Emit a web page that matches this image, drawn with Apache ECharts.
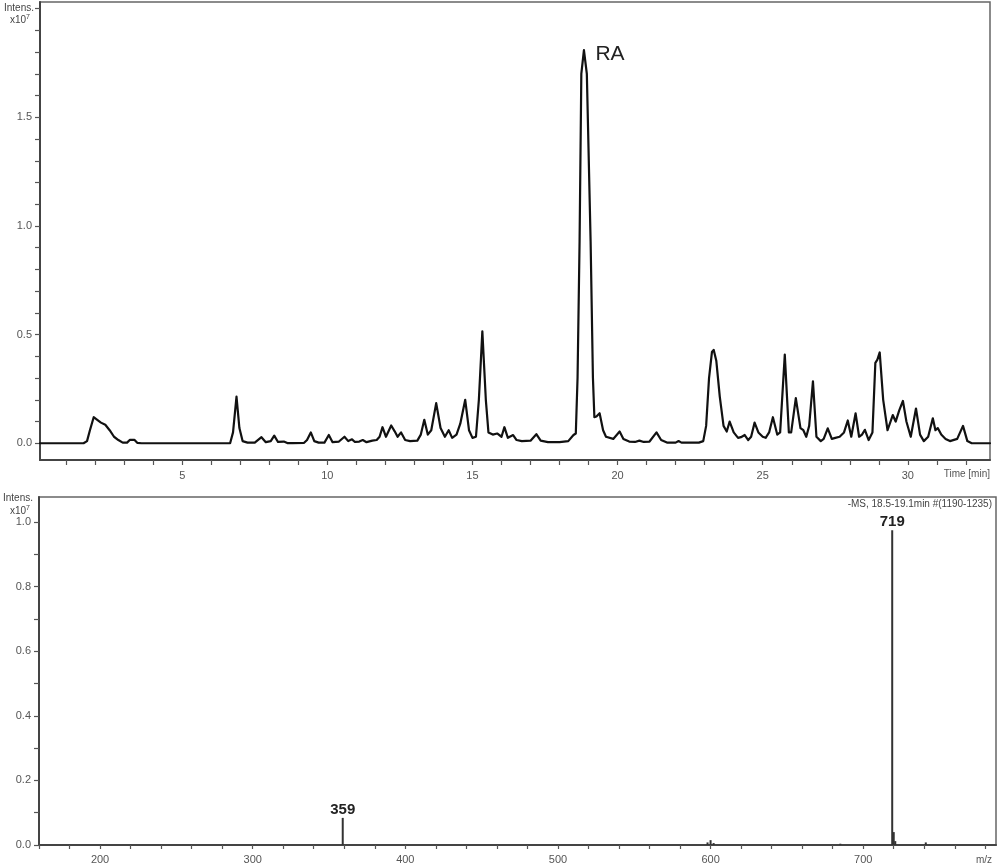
<!DOCTYPE html>
<html>
<head>
<meta charset="utf-8">
<script src="https://cdn.jsdelivr.net/npm/echarts@6/dist/echarts.min.js"></script>
<style>
html,body{margin:0;padding:0;background:#fff;}
#chart{width:1000px;height:865px;}
</style>
</head>
<body>
<div id="chart"></div>
<script>
// ---- Top: chromatogram (time in min, intensity x10^7) ----
var chromTime = [0.1,1.6,1.72,1.82,1.95,2.05,2.2,2.35,2.5,2.65,2.8,2.95,3.1,3.2,3.35,3.45,3.6,
  6.65,6.75,6.87,6.97,7.08,7.25,7.5,7.73,7.88,8.05,8.17,8.3,8.5,8.62,8.8,9.2,9.3,9.43,9.55,9.7,9.9,
  10.05,10.18,10.4,10.59,10.72,10.85,10.95,11.1,11.22,11.35,11.55,11.7,11.8,11.9,12.02,12.2,12.32,12.42,
  12.54,12.68,12.85,13.1,13.22,13.34,13.46,13.58,13.75,13.9,14.05,14.18,14.3,14.45,14.58,14.75,14.88,
  15.0,15.12,15.22,15.34,15.46,15.55,15.7,15.85,16.0,16.1,16.22,16.4,16.52,16.7,17.0,17.2,17.35,17.6,
  18.0,18.3,18.48,18.56,18.62,18.69,18.75,18.84,18.94,19.07,19.15,19.2,19.27,19.38,19.5,19.6,19.85,
  20.07,20.2,20.4,20.6,20.75,20.9,21.1,21.34,21.5,21.7,22.0,22.1,22.2,22.8,22.95,23.05,23.15,23.25,
  23.31,23.4,23.52,23.65,23.76,23.86,24.0,24.15,24.25,24.38,24.5,24.6,24.72,24.85,25.0,25.1,25.22,
  25.35,25.5,25.6,25.76,25.9,25.98,26.14,26.3,26.4,26.5,26.6,26.73,26.85,27.0,27.1,27.24,27.38,27.5,
  27.65,27.8,27.93,28.05,28.2,28.32,28.42,28.52,28.65,28.78,28.88,28.95,29.03,29.15,29.3,29.48,29.58,
  29.7,29.83,29.95,30.1,30.28,30.42,30.55,30.7,30.86,30.95,31.03,31.15,31.3,31.45,31.7,31.9,32.05,
  32.2,32.83];
var chromIntens = [0,0,0.01,0.06,0.12,0.11,0.095,0.085,0.06,0.03,0.015,0.003,0.003,0.016,0.016,0.002,0,
  0,0.05,0.215,0.07,0.01,0.003,0.003,0.028,0.005,0.01,0.035,0.006,0.008,0.001,0.001,0.002,0.015,0.05,0.01,0.003,0.003,
  0.038,0.005,0.008,0.03,0.01,0.018,0.006,0.008,0.015,0.005,0.012,0.015,0.03,0.074,0.03,0.082,0.055,0.03,
  0.05,0.015,0.01,0.012,0.04,0.108,0.04,0.06,0.185,0.07,0.03,0.06,0.025,0.04,0.09,0.2,0.06,
  0.025,0.03,0.2,0.515,0.2,0.05,0.04,0.045,0.03,0.074,0.025,0.038,0.015,0.01,0.012,0.042,0.012,0.005,
  0.005,0.01,0.038,0.045,0.3,0.93,1.70,1.81,1.70,0.93,0.3,0.12,0.123,0.138,0.06,0.03,0.02,
  0.054,0.02,0.008,0.006,0.012,0.006,0.008,0.05,0.015,0.003,0.003,0.01,0.003,0.003,0.01,0.08,0.3,0.42,
  0.43,0.38,0.215,0.08,0.054,0.1,0.05,0.025,0.028,0.038,0.015,0.03,0.095,0.05,0.03,0.025,0.05,
  0.12,0.04,0.05,0.408,0.05,0.05,0.208,0.07,0.06,0.03,0.08,0.285,0.03,0.01,0.02,0.069,0.02,0.025,
  0.03,0.05,0.105,0.03,0.138,0.03,0.04,0.062,0.015,0.05,0.37,0.385,0.418,0.2,0.06,0.13,0.1,
  0.15,0.195,0.1,0.03,0.16,0.04,0.01,0.03,0.115,0.06,0.07,0.04,0.02,0.01,0.02,0.08,0.01,
  0,0];
var chromTickValues = [1,2,3,4,5,6,7,8,9,10,11,12,13,14,15,16,17,18,19,20,21,22,23,24,25,26,27,28,29,30,31,32];
var chromLabelValues = [5,10,15,20,25,30];
var chromYTicks = [0,0.1,0.2,0.3,0.4,0.5,0.6,0.7,0.8,0.9,1.0,1.1,1.2,1.3,1.4,1.5,1.6,1.7,1.8,1.9,2.0];
var chromYLabels = [0,0.5,1.0,1.5];

// ---- Bottom: mass spectrum (m/z, intensity x10^7) ----
var msMz = [359, 598, 600, 602, 685, 719, 720, 721, 741];
var msIntens = [0.084, 0.008, 0.015, 0.006, 0.004, 0.975, 0.04, 0.012, 0.008];
var msLabeled = [359, 719];
var msXTicks = [160,180,200,220,240,260,280,300,320,340,360,380,400,420,440,460,480,500,520,540,560,580,600,620,640,660,680,700,720,740,760,780];
var msXLabels = [200,300,400,500,600,700];
var msYTicks = [0,0.1,0.2,0.3,0.4,0.5,0.6,0.7,0.8,0.9,1.0];
var msYLabels = [0,0.2,0.4,0.6,0.8,1.0];

var FONT = "'Liberation Sans', Arial, sans-serif";
var chromData = chromTime.map(function(t,i){return [t, chromIntens[i]];});
var msData = msMz.map(function(m,i){
  var item = {value:[m, msIntens[i]]};
  if (msLabeled.indexOf(m) >= 0) {
    item.label = {show:true, position:'top', distance:1, formatter:String(m),
      fontSize:15, fontWeight:'bold', color:'#222', fontFamily:FONT};
  }
  return item;
});

var axisLabelStyle = {color:'#555', fontSize:11, fontFamily:FONT};
var chart = echarts.init(document.getElementById('chart'), null, {renderer:'canvas'});
chart.setOption({
  backgroundColor:'#fff',
  animation:false,
  grid:[
    {left:40, top:2, width:950, height:458, show:true, borderColor:'#666', borderWidth:1.5, containLabel:false},
    {left:39, top:497, width:957, height:350, show:true, borderColor:'#666', borderWidth:1.5, containLabel:false}
  ],
  xAxis:[
    {gridIndex:0, type:'value', min:0.1, max:32.83,
     axisLine:{show:true, onZero:false, lineStyle:{color:'#444', width:2}},
     axisTick:{show:true, length:5, customValues:chromTickValues, lineStyle:{color:'#555', width:1.2}},
     axisLabel:Object.assign({customValues:chromLabelValues, margin:10}, axisLabelStyle),
     splitLine:{show:false}},
    {gridIndex:1, type:'value', min:160, max:787,
     axisLine:{show:true, onZero:false, lineStyle:{color:'#444', width:2}},
     axisTick:{show:true, length:4, customValues:msXTicks, lineStyle:{color:'#555', width:1.2}},
     axisLabel:Object.assign({customValues:msXLabels, margin:9}, axisLabelStyle),
     splitLine:{show:false}}
  ],
  yAxis:[
    {gridIndex:0, type:'value', min:-0.077, max:2.031,
     axisLine:{show:true, onZero:false, lineStyle:{color:'#444', width:2}},
     axisTick:{show:true, length:5, customValues:chromYTicks, lineStyle:{color:'#555', width:1.2}},
     axisLabel:Object.assign({customValues:chromYLabels, margin:8,
       formatter:function(v){return v.toFixed(1);}}, axisLabelStyle),
     splitLine:{show:false}},
    {gridIndex:1, type:'value', min:0, max:1.078,
     axisLine:{show:true, onZero:false, lineStyle:{color:'#444', width:2}},
     axisTick:{show:true, length:5, customValues:msYTicks, lineStyle:{color:'#555', width:1.2}},
     axisLabel:Object.assign({customValues:msYLabels, margin:8,
       formatter:function(v){return v.toFixed(1);}}, axisLabelStyle),
     splitLine:{show:false}}
  ],
  series:[
    {type:'line', xAxisIndex:0, yAxisIndex:0, data:chromData, showSymbol:false,
     smooth:false,
     lineStyle:{color:'#111', width:2.2, join:'round', cap:'round'}, z:3,
     markPoint:{symbol:'circle', symbolSize:1, itemStyle:{color:'rgba(0,0,0,0)'},
       label:{show:true, formatter:'RA', position:'right', offset:[6,4], fontSize:21, color:'#222', fontFamily:FONT},
       data:[{type:'max'}]}},
    {type:'bar', xAxisIndex:1, yAxisIndex:1, data:msData, barWidth:2,
     itemStyle:{color:'#333'}, z:3}
  ],
  graphic:[
    {type:'text', left:4, top:3, style:{text:'Intens.', fontSize:10, fill:'#444', fontFamily:FONT}},
    {type:'text', left:10, top:14, style:{text:'x10{s|7}', fontSize:10, fill:'#444', fontFamily:FONT,
      rich:{s:{fontSize:7, verticalAlign:'top', fill:'#444', padding:[0,0,6,0]}}}},
    {type:'text', right:10, top:469, style:{text:'Time [min]', fontSize:10, fill:'#555', fontFamily:FONT}},
    {type:'text', left:3, top:493, style:{text:'Intens.', fontSize:10, fill:'#444', fontFamily:FONT}},
    {type:'text', left:10, top:505, style:{text:'x10{s|7}', fontSize:10, fill:'#444', fontFamily:FONT,
      rich:{s:{fontSize:7, verticalAlign:'top', fill:'#444', padding:[0,0,6,0]}}}},
    {type:'text', right:8, top:499, style:{text:'-MS, 18.5-19.1min #(1190-1235)', fontSize:10, fill:'#444', fontFamily:FONT}},
    {type:'text', right:8, top:855, style:{text:'m/z', fontSize:10, fill:'#555', fontFamily:FONT}}
  ]
});
</script>
</body>
</html>
